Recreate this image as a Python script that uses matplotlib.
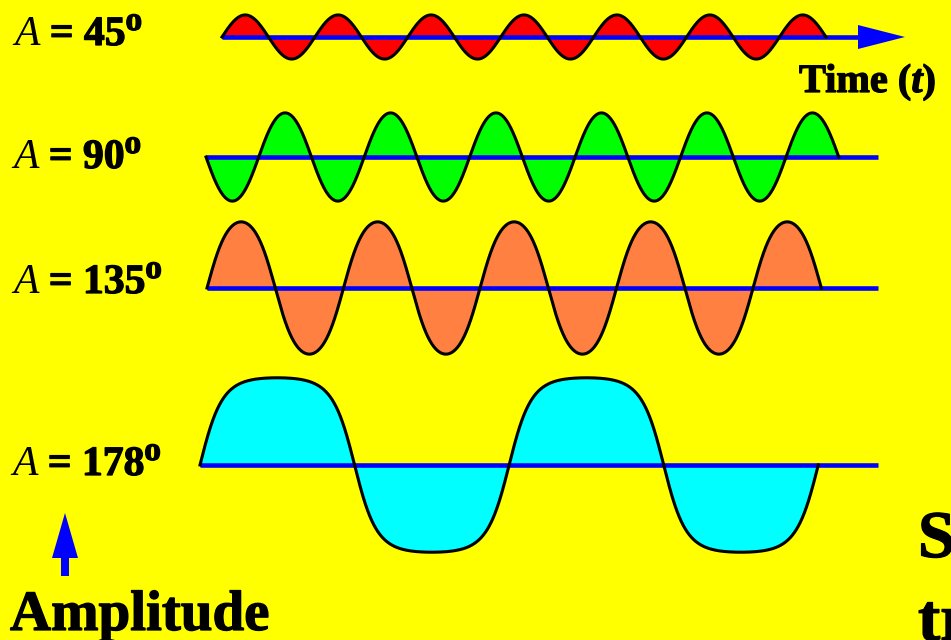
import numpy as np
import matplotlib
matplotlib.use("Agg")
import matplotlib.pyplot as plt
import matplotlib.patheffects as pe
from matplotlib.patches import FancyArrow

# pendulum amplitudes (degrees) and how many half swings are drawn
angles = [45, 90, 135, 178]
half_swings = [13, 12, 9, 4]
first_dir = [1, -1, 1, 1]
labels = ["45", "90", "135", "178"]
fills = ["#FF0000", "#00FF00", "#FF8040", "#00FFFF"]

# layout in pixels
base_y = [37, 157, 288, 465]
x_start = [222, 206, 207, 200]
axis_end = [870, 878, 878, 878]
label_x = [14, 13, 13, 12]
label_y = [45, 168, 293, 475]
px_per_t = 14.22       # px per unit of time (omega0 = 1)
px_per_deg = 0.49

SERIF = "Liberation Serif"
STYLES = {"i": ("italic", "normal"), "b": ("normal", "bold"), "bi": ("italic", "bold")}
HEAVY = [pe.withStroke(linewidth=0.9, foreground="black")]


def quarter_swing(theta0_deg, dt=0.0005):
    # integrate theta'' = -sin(theta) from the bottom up to the turning point
    th0 = np.radians(theta0_deg)
    th, om = 0.0, 2 * np.sin(th0 / 2)
    f = lambda a, b: (b, -np.sin(a))
    ts, ths = [0.0], [0.0]
    t = 0.0
    while True:
        k1 = f(th, om)
        k2 = f(th + dt / 2 * k1[0], om + dt / 2 * k1[1])
        k3 = f(th + dt / 2 * k2[0], om + dt / 2 * k2[1])
        k4 = f(th + dt * k3[0], om + dt * k3[1])
        th_n = th + dt / 6 * (k1[0] + 2 * k2[0] + 2 * k3[0] + k4[0])
        om_n = om + dt / 6 * (k1[1] + 2 * k2[1] + 2 * k3[1] + k4[1])
        if om_n <= 0:
            tq = t + dt * om / (om - om_n)
            ts.append(tq)
            ths.append(th0)
            break
        t += dt
        th, om = th_n, om_n
        ts.append(t)
        ths.append(th)
    return np.array(ts), np.degrees(np.array(ths))


def swing(theta0_deg, n_half, direction):
    tq, q = quarter_swing(theta0_deg)
    Tq = tq[-1]
    t_half = np.concatenate([tq, 2 * Tq - tq[::-1][1:]])
    th_half = np.concatenate([q, q[::-1][1:]])
    T, TH = [], []
    for i in range(n_half):
        sgn = direction * (1 if i % 2 == 0 else -1)
        T.append(t_half + i * 2 * Tq)
        TH.append(sgn * th_half)
    return np.concatenate(T), np.concatenate(TH)


fig = plt.figure(figsize=(9.51, 6.4), dpi=100)
fig.patch.set_facecolor("#FFFF00")
ax = fig.add_axes([0, 0, 1, 1])
ax.set_facecolor("#FFFF00")
ax.set_xlim(0, 951)
ax.set_ylim(640, 0)
ax.axis("off")

renderer = fig.canvas.get_renderer()


def chain(parts, x, y):
    for txt, code, dy, size in parts:
        style, weight = STYLES[code]
        t = ax.text(x, y + dy, txt, fontsize=size, family=SERIF, style=style,
                    weight=weight, va="baseline", ha="left")
        if weight == "bold":
            t.set_path_effects(HEAVY)
        bb = t.get_window_extent(renderer)
        x = ax.transData.inverted().transform((bb.x1, bb.y0))[0]


for i in range(4):
    t, th = swing(angles[i], half_swings[i], first_dir[i])
    xs = x_start[i] + t * px_per_t
    ys = base_y[i] - th * px_per_deg
    ax.fill_between(xs, base_y[i], ys, color=fills[i], lw=0, zorder=2)
    ax.plot([x_start[i], axis_end[i]], [base_y[i]] * 2, color="#0000FF",
            lw=3.3, solid_capstyle="butt", zorder=3)
    if i == 0:
        ax.add_patch(FancyArrow(858, base_y[i], 47, 0, width=0.1, head_width=24,
                                head_length=47, length_includes_head=True,
                                color="#0000FF", lw=0, zorder=3))
    ax.plot(xs, ys, color="black", lw=2.2, zorder=4)

    chain([("A", "i", 0, 30), (" = " + labels[i], "b", 0, 30), ("o", "b", -15, 24)],
          label_x[i], label_y[i])

chain([("Time (", "b", 0, 29), ("t", "bi", 0, 29), (")", "b", 0, 29)], 799, 92)

ax.add_patch(FancyArrow(65, 576, 0, -63, width=8, head_width=26, head_length=45,
                        length_includes_head=True, color="#0000FF", lw=0))
ax.text(10, 630, "Amplitude", fontsize=41, family=SERIF, weight="bold",
        va="baseline", ha="left", path_effects=HEAVY)

ax.text(918, 557, "S", fontsize=48, family=SERIF, weight="bold", va="baseline",
        ha="left", path_effects=HEAVY)
ax.text(918, 640, "tr", fontsize=48, family=SERIF, weight="bold", va="baseline",
        ha="left", path_effects=HEAVY)

fig.savefig("out.png", dpi=100, facecolor=fig.get_facecolor())
